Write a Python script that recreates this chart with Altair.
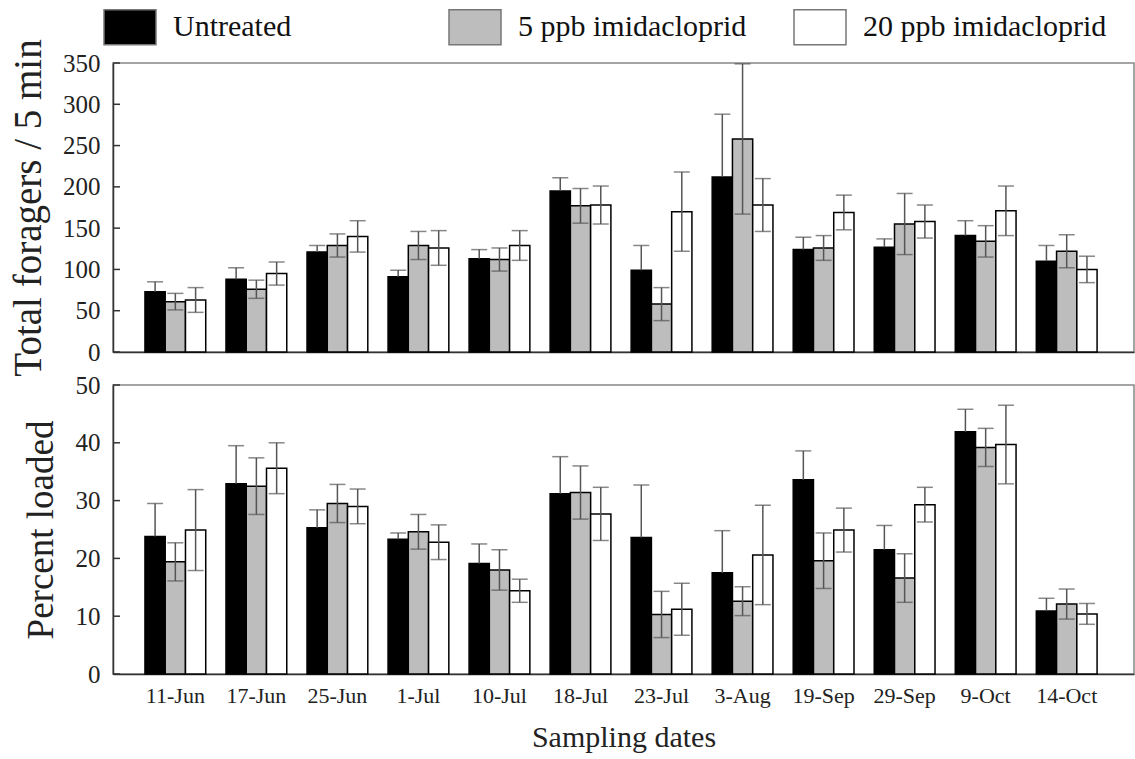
import altair as alt
import pandas as pd

dates = ["11-Jun", "17-Jun", "25-Jun", "1-Jul", "10-Jul", "18-Jul",
         "23-Jul", "3-Aug", "19-Sep", "29-Sep", "9-Oct", "14-Oct"]
series = ["Untreated", "5 ppb imidacloprid", "20 ppb imidacloprid"]
fills = ["#000000", "#bdbdbd", "#ffffff"]

# Total foragers / 5 min (means and error bars)
for_untreated = [73, 88, 121, 91, 113, 195, 99, 212, 124, 127, 141, 110]
for_untreated_se = [12, 14, 8, 8, 11, 16, 30, 76, 15, 10, 18, 19]
for_5ppb = [61, 76, 129, 129, 112, 177, 58, 258, 126, 155, 134, 122]
for_5ppb_se = [10, 11, 14, 17, 14, 21, 20, 91, 15, 37, 19, 20]
for_20ppb = [63, 95, 140, 126, 129, 178, 170, 178, 169, 158, 171, 100]
for_20ppb_se = [15, 14, 19, 21, 18, 23, 48, 32, 21, 20, 30, 16]

# Percent loaded (means and error bars)
pl_untreated = [23.8, 32.9, 25.3, 23.3, 19.1, 31.2, 23.6, 17.5, 33.6, 21.5, 41.9, 10.9]
pl_untreated_se = [5.7, 6.6, 3.1, 1.1, 3.4, 6.4, 9.1, 7.3, 5.0, 4.2, 3.9, 2.2]
pl_5ppb = [19.4, 32.5, 29.5, 24.6, 18.0, 31.4, 10.3, 12.6, 19.6, 16.6, 39.2, 12.1]
pl_5ppb_se = [3.3, 4.9, 3.3, 3.0, 3.5, 4.6, 4.0, 2.5, 4.8, 4.2, 3.3, 2.6]
pl_20ppb = [24.9, 35.6, 29.0, 22.8, 14.4, 27.7, 11.2, 20.6, 24.9, 29.3, 39.7, 10.4]
pl_20ppb_se = [7.0, 4.4, 3.0, 3.0, 2.0, 4.6, 4.5, 8.6, 3.8, 3.0, 6.8, 1.8]

top_ticks = [0, 50, 100, 150, 200, 250, 300, 350]
bottom_ticks = [0, 10, 20, 30, 40, 50]

FONT = "Liberation Serif"
W, H = 1021, 289


def make_df(vals_list, se_list):
    rows = []
    for s, vals, ses in zip(series, vals_list, se_list):
        for d, v, e in zip(dates, vals, ses):
            rows.append({"date": d, "series": s, "mean": v, "se": e})
    return pd.DataFrame(rows)


legend = alt.Legend(
    title=None, orient="none", legendX=-10, legendY=-63,
    direction="horizontal", columns=3, gridAlign="all", columnPadding=29,
    symbolType="M-1,-0.673L1,-0.673L1,0.673L-1,0.673Z", symbolSize=2704,
    symbolStrokeColor="#777777", symbolStrokeWidth=1.5,
    labelFont=FONT, labelFontSize=30, labelColor="#111111",
    labelLimit=400, labelOffset=16,
)


def panel(df, ymax, ticks, title, title_x, title_size, show_x):
    if show_x:
        xaxis = alt.Axis(title="Sampling dates", labelFont=FONT, labelFontSize=22,
                         labelColor="#222222", labelPadding=11, labelAngle=0,
                         ticks=False, titleFont=FONT, titleFontSize=30,
                         titleFontWeight="normal", titleColor="#222222",
                         titlePadding=16, domainColor="#333333", domainWidth=1.5)
    else:
        xaxis = alt.Axis(title=None, labels=False, ticks=False,
                         domainColor="#333333", domainWidth=1.5)
    xscale = alt.Scale(paddingInner=0.25, paddingOuter=0.425, align=0.464)
    x = alt.X("date:N", sort=dates, scale=xscale, axis=xaxis)
    xo = alt.XOffset("series:N", sort=series,
                     scale=alt.Scale(paddingInner=0, paddingOuter=0))
    yscale = alt.Scale(domain=[0, ymax], nice=False)
    yaxis = alt.Axis(
        values=ticks, title=title, ticks=False, grid=False,
        labelFont=FONT, labelFontSize=25, labelColor="#222222", labelPadding=13,
        titleFont=FONT, titleFontSize=title_size, titleFontWeight="normal",
        titleColor="#222222", titleX=title_x, titleY=H / 2,
        titleAlign="center", titleBaseline="alphabetic", titleAngle=270,
        domainColor="#333333", domainWidth=1.5)

    def yenc(field):
        return alt.Y(field, scale=yscale, axis=yaxis, title=title)

    base = alt.Chart(df).transform_calculate(
        lo="datum.series == 'Untreated' ? datum.mean : datum.mean - datum.se",
        hi="datum.mean + datum.se",
    )
    bars = base.mark_bar(stroke="#000000", strokeWidth=1.5).encode(
        x=x, xOffset=xo, y=yenc("mean:Q"),
        fill=alt.Fill("series:N", sort=series,
                      scale=alt.Scale(domain=series, range=fills), legend=legend),
    )
    rules = base.mark_rule(color="#555555", strokeWidth=1.5).encode(
        x=x, xOffset=xo, y=yenc("lo:Q"), y2="hi:Q",
    )
    caps_hi = base.mark_tick(orient="horizontal", size=16, thickness=1.5,
                             color="#555555").encode(
        x=x, xOffset=xo, y=yenc("hi:Q"))
    caps_lo = base.transform_filter("datum.series != 'Untreated'").mark_tick(
        orient="horizontal", size=16, thickness=1.5, color="#555555").encode(
        x=x, xOffset=xo, y=yenc("lo:Q"))
    tick_df = pd.DataFrame({"v": ticks})
    inner_ticks = alt.Chart(tick_df).mark_rule(color="#333333", strokeWidth=1.5).encode(
        y=yenc("v:Q"),
        x=alt.value(0), x2=alt.value(7),
    )
    return alt.layer(bars, rules, caps_hi, caps_lo, inner_ticks).properties(
        width=W, height=H)


top = panel(make_df([for_untreated, for_5ppb, for_20ppb],
                    [for_untreated_se, for_5ppb_se, for_20ppb_se]),
            350, top_ticks, "Total foragers / 5 min", -73, 39, False)
bottom = panel(make_df([pl_untreated, pl_5ppb, pl_20ppb],
                       [pl_untreated_se, pl_5ppb_se, pl_20ppb_se]),
               50, bottom_ticks, "Percent loaded", -61, 37, True)

chart = alt.vconcat(top, bottom, spacing=33, bounds="flush").properties(
    padding={"left": 8, "top": 0, "right": 0, "bottom": 0},
    background="white",
).configure_view(stroke="#888888", strokeWidth=1.5)

chart.save("out.html", embed_options={"renderer": "svg", "actions": False})
